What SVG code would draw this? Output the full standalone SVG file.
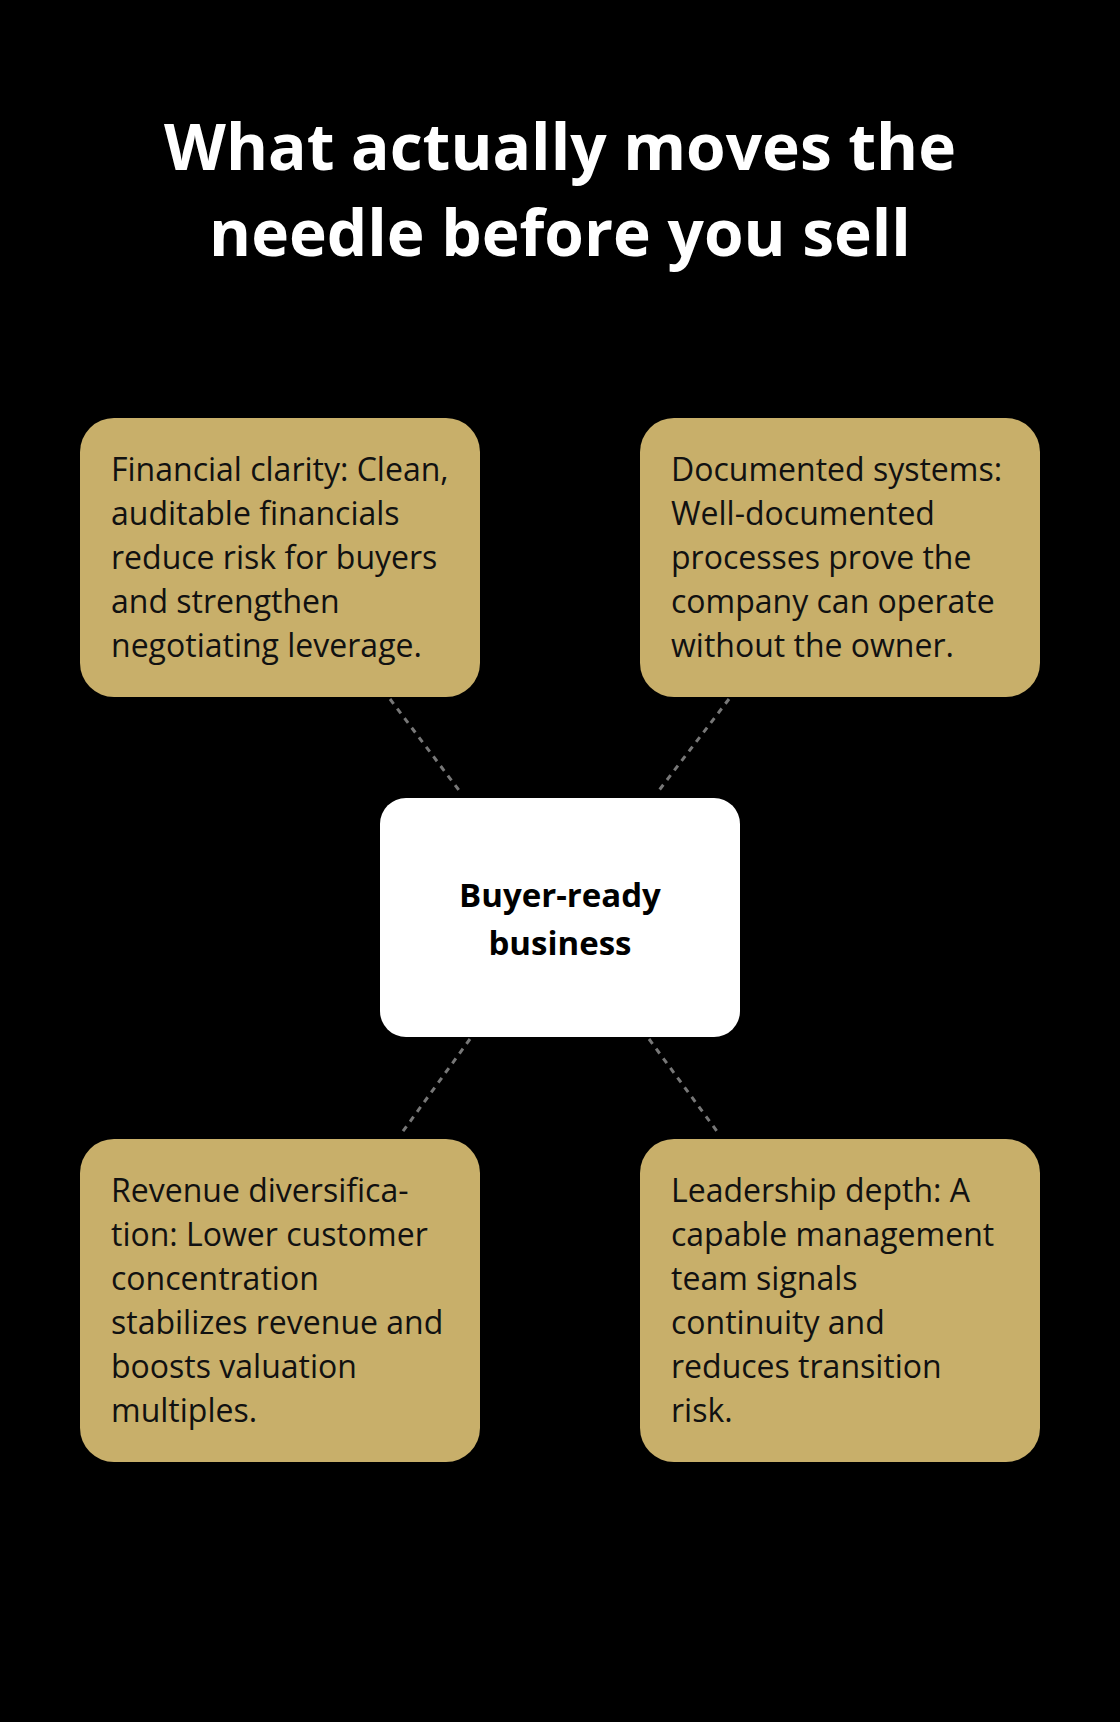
<svg xmlns="http://www.w3.org/2000/svg" width="1120" height="1722" viewBox="0 0 1120 1722">
<style>
.box{fill:#C8AF6A}
.t{font-family:"Open Sans","Liberation Sans",sans-serif;font-size:32px;fill:#111}
.h{font-family:"Open Sans","Liberation Sans",sans-serif;font-size:64px;font-weight:bold;fill:#fff;text-anchor:middle}
.c{font-family:"Open Sans","Liberation Sans",sans-serif;font-size:33px;font-weight:bold;fill:#000;text-anchor:middle}
.ln{stroke:#777;stroke-width:3;stroke-dasharray:6 6;fill:none}
</style>
<rect width="1120" height="1722" fill="#000"/>
<text class="h" x="560" y="170">What actually moves the</text>
<text class="h" x="560" y="256">needle before you sell</text>
<g id="connectors">
<line class="ln" x1="390" y1="699" x2="461" y2="793"/>
<line class="ln" x1="729" y1="699" x2="657" y2="793"/>
<line class="ln" x1="470" y1="1039" x2="401" y2="1134"/>
<line class="ln" x1="649" y1="1039" x2="719" y2="1134"/>
</g>
<g id="financial">
<rect class="box" x="80" y="418" width="400" height="279" rx="34"/>
<text class="t" x="111" y="481">Financial clarity: Clean,<tspan x="111" dy="44">auditable financials</tspan><tspan x="111" dy="44">reduce risk for buyers</tspan><tspan x="111" dy="44">and strengthen</tspan><tspan x="111" dy="44">negotiating leverage.</tspan></text>
</g>
<g id="systems">
<rect class="box" x="640" y="418" width="400" height="279" rx="34"/>
<text class="t" x="671" y="481">Documented systems:<tspan x="671" dy="44">Well-documented</tspan><tspan x="671" dy="44">processes prove the</tspan><tspan x="671" dy="44">company can operate</tspan><tspan x="671" dy="44">without the owner.</tspan></text>
</g>
<g id="center">
<rect x="380" y="798" width="360" height="239" rx="26" fill="#fff"/>
<text class="c" x="560" y="907">Buyer-ready</text>
<text class="c" x="560" y="955">business</text>
</g>
<g id="revenue">
<rect class="box" x="80" y="1139" width="400" height="323" rx="34"/>
<text class="t" x="111" y="1202">Revenue diversifica-<tspan x="111" dy="44">tion: Lower customer</tspan><tspan x="111" dy="44">concentration</tspan><tspan x="111" dy="44">stabilizes revenue and</tspan><tspan x="111" dy="44">boosts valuation</tspan><tspan x="111" dy="44">multiples.</tspan></text>
</g>
<g id="leadership">
<rect class="box" x="640" y="1139" width="400" height="323" rx="34"/>
<text class="t" x="671" y="1202">Leadership depth: A<tspan x="671" dy="44">capable management</tspan><tspan x="671" dy="44">team signals</tspan><tspan x="671" dy="44">continuity and</tspan><tspan x="671" dy="44">reduces transition</tspan><tspan x="671" dy="44">risk.</tspan></text>
</g>
</svg>
